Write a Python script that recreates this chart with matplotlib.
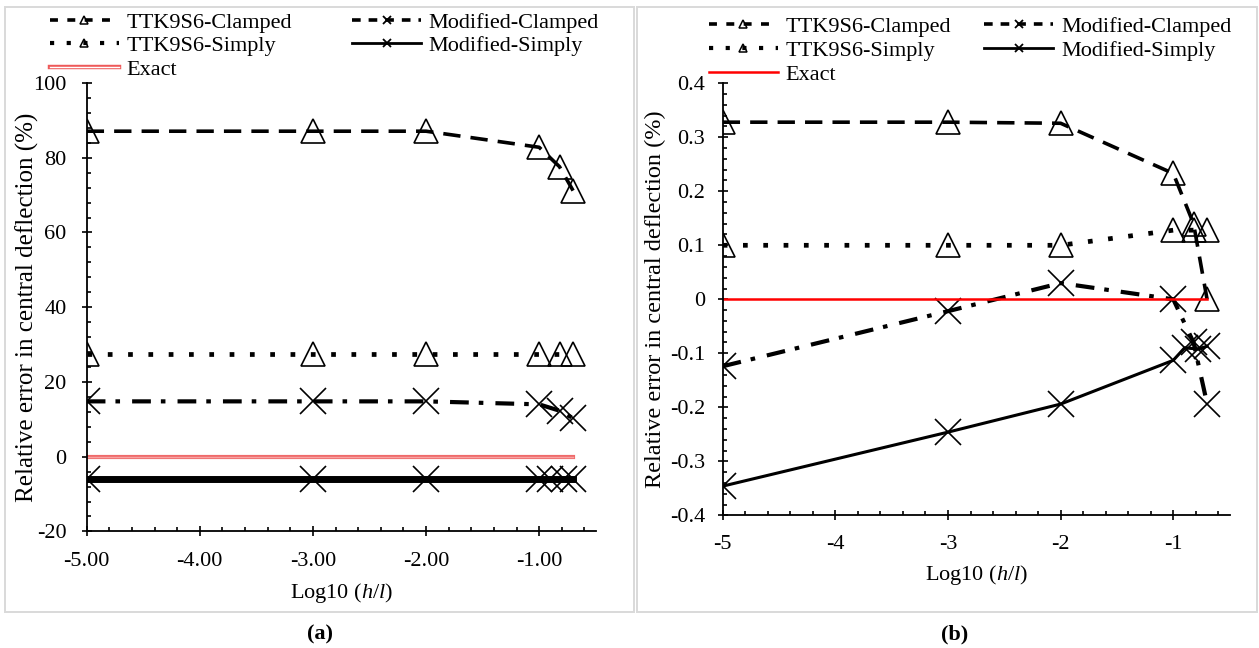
import matplotlib
matplotlib.use("Agg")
import matplotlib.pyplot as plt
from matplotlib.lines import Line2D
from matplotlib.patches import Rectangle
from matplotlib.ticker import MultipleLocator, FuncFormatter
import matplotlib.patheffects as pe

plt.rcParams['font.family'] = ['Liberation Serif', 'DejaVu Serif']
plt.rcParams['axes.unicode_minus'] = False
plt.rcParams['mathtext.fontset'] = 'custom'
plt.rcParams['mathtext.rm'] = 'Liberation Serif'
plt.rcParams['mathtext.it'] = 'Liberation Serif:italic'

# ---- panel (a): relative error (%) ----
a_x = [-5, -3, -2, -1, -0.82, -0.7]
a_x_simply = [-5, -3, -2, -1, -0.9, -0.78, -0.7]
a_ttk_clamped = [87.1, 87.1, 87.1, 82.8, 77.6, 71.2]
a_ttk_simply = [27.5, 27.5, 27.5, 27.5, 27.5, 27.5]
a_mod_clamped = [14.8, 14.8, 14.8, 14.0, 12.3, 10.3]
a_mod_simply = [-5.9, -5.9, -5.9, -5.9, -5.9, -5.9, -5.9]

# ---- panel (b): relative error (%) ----
b_x = [-5, -3, -2, -1, -0.82, -0.7]
b_x_simply = [-5, -3, -2, -1, -0.9, -0.78, -0.7]
b_ttk_clamped = [0.328, 0.328, 0.326, 0.233, 0.14, 0.0]
b_ttk_simply = [0.1, 0.1, 0.1, 0.128, 0.128, 0.128]
b_mod_clamped = [-0.124, -0.022, 0.03, 0.0, -0.08, -0.193]
b_mod_simply = [-0.346, -0.246, -0.194, -0.113, -0.09, -0.092, -0.087]

exact_x = [-5, -0.7]
exact_y = [0, 0]

labels = ["TTK9S6-Clamped", "TTK9S6-Simply", "Exact",
          "Modified-Clamped", "Modified-Simply"]

FS = 16
W, H = 1259, 648
fig = plt.figure(figsize=(W / 100, H / 100), dpi=100)

def fx(px):
    return px / W

def fy(py):
    return 1 - py / H

# panel frames
for x0, x1 in [(5, 634), (637, 1257)]:
    fig.add_artist(Rectangle((fx(x0), fy(612)), fx(x1) - fx(x0), fy(7) - fy(612),
                             transform=fig.transFigure, fill=False,
                             edgecolor="#d9d9d9", linewidth=1.4))

ax_a = fig.add_axes([fx(86.7), fy(531.4), fx(595.7) - fx(86.7), fy(83) - fy(531.4)])
ax_b = fig.add_axes([fx(722.7), fy(515.3), fx(1229.6) - fx(722.7), fy(83.3) - fy(515.3)])

tri = dict(marker="^", markersize=17, markerfacecolor="none",
           markeredgecolor="black", markeredgewidth=1.2)
crs = dict(marker="x", markersize=19, markeredgecolor="black",
           markeredgewidth=1.2)

def draw(ax, x, x_s, ttk_c, ttk_s, mod_c, mod_s, simply_lw, exact_style):
    ax.plot(x, ttk_c, color="black", lw=2.6, dashes=(4.8, 2.8),
            dash_capstyle="butt", **tri)
    ax.plot(x, ttk_s, color="black", lw=3.4, dashes=(1, 3.3),
            dash_capstyle="butt", **tri)
    ax.plot(x, mod_c, color="black", lw=3.0, dashes=(4.5, 2.4, 1.1, 2.9),
            dash_capstyle="butt", **crs)
    ax.plot(x_s, mod_s, color="black", lw=simply_lw, **crs)
    ax.plot(exact_x, exact_y, **exact_style)

exact_a = dict(color="#f7a3a3", lw=1.0,
               path_effects=[pe.Stroke(linewidth=3.0, foreground="#ef6a6a"), pe.Normal()])
exact_b = dict(color="#ff0000", lw=1.8)

draw(ax_a, a_x, a_x_simply, a_ttk_clamped, a_ttk_simply, a_mod_clamped,
     a_mod_simply, 5.0, exact_a)
draw(ax_b, b_x, b_x_simply, b_ttk_clamped, b_ttk_simply, b_mod_clamped,
     b_mod_simply, 2.2, exact_b)

ax_a.set_xlim(-5, -0.5)
ax_a.set_ylim(-20, 100)
ax_a.xaxis.set_major_locator(MultipleLocator(1))
ax_a.xaxis.set_minor_locator(MultipleLocator(0.2))
ax_a.yaxis.set_major_locator(MultipleLocator(20))
ax_a.yaxis.set_minor_locator(MultipleLocator(4))
ax_a.xaxis.set_major_formatter(FuncFormatter(lambda v, p: f"{v:.2f}"))
ax_a.yaxis.set_major_formatter(FuncFormatter(lambda v, p: f"{v:g}"))

ax_b.set_xlim(-5, -0.5)
ax_b.set_ylim(-0.4, 0.4)
ax_b.xaxis.set_major_locator(MultipleLocator(1))
ax_b.xaxis.set_minor_locator(MultipleLocator(0.2))
ax_b.yaxis.set_major_locator(MultipleLocator(0.1))
ax_b.yaxis.set_minor_locator(MultipleLocator(0.02))
ax_b.xaxis.set_major_formatter(FuncFormatter(lambda v, p: f"{v:g}"))
ax_b.yaxis.set_major_formatter(FuncFormatter(lambda v, p: f"{round(v, 2):g}"))

for ax in (ax_a, ax_b):
    ax.set_facecolor("none")
    for s in ("top", "right"):
        ax.spines[s].set_visible(False)
    for s in ("left", "bottom"):
        ax.spines[s].set_linewidth(1.3)
    ax.tick_params(which="major", direction="inout", length=7, width=1.2,
                   labelsize=FS)
    ax.tick_params(axis="x", which="major", pad=11)
    ax.tick_params(which="minor", direction="in", length=3, width=1.2)
    ax.set_xlabel(r"Log10 ($\mathit{h/l}$)", fontsize=FS,
                  va="center", ha="center")

ax_a.tick_params(axis="y", which="major", pad=11)
ax_b.tick_params(axis="y", which="major", pad=9)
ax_a.set_ylabel("Relative error in central deflection (%)", fontsize=18,
                va="center", ha="center")
ax_b.set_ylabel("Relative error in central deflection (%)", fontsize=17.5,
                va="center", ha="center")

ax_a.yaxis.set_label_coords((27 - 86.7) / 509.0, 0.5)
ax_a.xaxis.set_label_coords(0.5, (531.4 - 593) / 448.4)
ax_b.yaxis.set_label_coords((655 - 722.7) / 506.9, 0.5)
ax_b.xaxis.set_label_coords(0.5, (515.3 - 575) / 432.0)

# legend handles with small markers
def handles(exact_kw):
    small_tri = dict(marker="^", markersize=6, markerfacecolor="none",
                     markeredgecolor="black", markeredgewidth=1.1)
    small_x = dict(marker="x", markersize=6, markeredgecolor="black",
                   markeredgewidth=1.3)
    return [
        Line2D([], [], color="black", lw=2.6, dashes=(2.2, 2.6), **small_tri),
        Line2D([], [], color="black", lw=3.0, dashes=(1, 3.0), **small_tri),
        Line2D([], [], **exact_kw),
        Line2D([], [], color="black", lw=2.6, dashes=(2.4, 2.2), **small_x),
        Line2D([], [], color="black", lw=2.0, **small_x),
    ]

exact_leg_a = dict(color="white", lw=1.0,
                   path_effects=[pe.Stroke(linewidth=3.2, foreground="#ee5a5a"), pe.Normal()])

fig.legend(handles(exact_leg_a), labels, loc="upper left",
           bbox_to_anchor=(fx(50), fy(12)), ncol=2, frameon=False,
           fontsize=FS, handlelength=3.1, handletextpad=0.35,
           columnspacing=2.7, labelspacing=0.14, borderpad=0, borderaxespad=0)
fig.legend(handles(exact_b), labels, loc="upper left",
           bbox_to_anchor=(fx(709), fy(16)), ncol=2, frameon=False,
           fontsize=FS, handlelength=3.1, handletextpad=0.35,
           columnspacing=1.5, labelspacing=0.16, borderpad=0, borderaxespad=0)

fig.text(fx(320), fy(634), "(a)", ha="center", va="center",
         fontsize=FS, fontweight="bold")
fig.text(fx(955), fy(634), "(b)", ha="center", va="center",
         fontsize=FS, fontweight="bold")

fig.savefig("out.png", dpi=100)
